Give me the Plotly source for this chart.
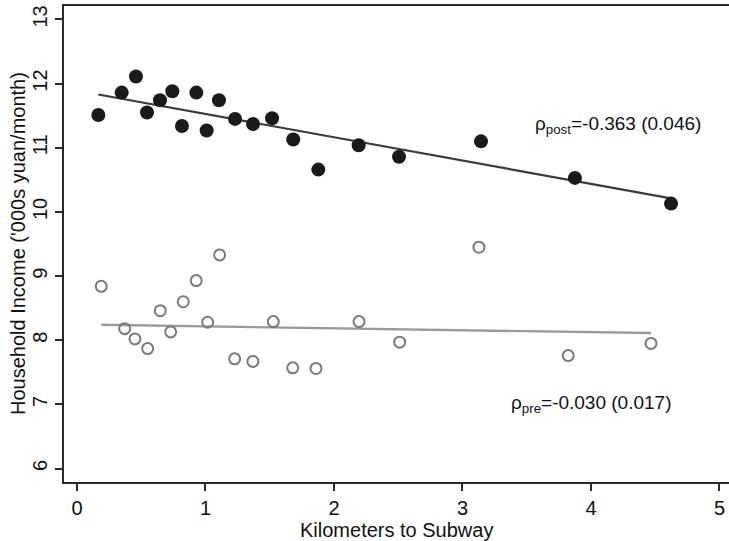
import plotly.graph_objects as go

# ---- data ----
post_km = [0.166, 0.348, 0.459, 0.545, 0.646, 0.742, 0.817, 0.929, 1.009, 1.105,
           1.230, 1.370, 1.518, 1.683, 1.878, 2.192, 2.506, 3.144, 3.875, 4.623]
post_income = [11.51, 11.86, 12.11, 11.55, 11.74, 11.88, 11.34, 11.86, 11.27, 11.74,
               11.45, 11.37, 11.46, 11.13, 10.66, 11.04, 10.86, 11.10, 10.53, 10.13]

pre_km = [0.189, 0.371, 0.451, 0.550, 0.648, 0.729, 0.827, 0.928, 1.017, 1.110,
          1.227, 1.369, 1.528, 1.679, 1.860, 2.195, 2.511, 3.128, 3.823, 4.467]
pre_income = [8.84, 8.18, 8.02, 7.87, 8.46, 8.13, 8.60, 8.93, 8.28, 9.33,
              7.71, 7.67, 8.29, 7.57, 7.56, 8.29, 7.97, 9.45, 7.76, 7.95]

# fitted lines (intercept, slope)
post_fit = (11.89, -0.363)
pre_fit = (8.246, -0.030)

x_ticks = [0, 1, 2, 3, 4, 5]
y_ticks = [6, 7, 8, 9, 10, 11, 12, 13]

FONT = "Liberation Sans, Arial, Helvetica, sans-serif"

fig = go.Figure()

def fit_line(xs, fit):
    x0, x1 = min(xs), max(xs)
    return [x0, x1], [fit[0] + fit[1] * x0, fit[0] + fit[1] * x1]

lx, ly = fit_line(post_km, post_fit)
fig.add_trace(go.Scatter(x=lx, y=ly, mode="lines",
                         line=dict(color="#3a3a3a", width=2.2), showlegend=False))
lx, ly = fit_line(pre_km, pre_fit)
fig.add_trace(go.Scatter(x=lx, y=ly, mode="lines",
                         line=dict(color="#9a9a9a", width=2.4), showlegend=False))

fig.add_trace(go.Scatter(x=post_km, y=post_income, mode="markers",
                         marker=dict(symbol="circle", size=14, color="#1a1a1a",
                                     line=dict(width=0)),
                         showlegend=False))
fig.add_trace(go.Scatter(x=pre_km, y=pre_income, mode="markers",
                         marker=dict(symbol="circle-open", size=11, color="#7a7a7a",
                                     line=dict(width=2, color="#7a7a7a")),
                         showlegend=False))

fig.add_annotation(x=3.549, y=11.35, xref="x", yref="y", xanchor="left", yanchor="middle",
                   text="ρ<sub>post</sub>=-0.363 (0.046)", showarrow=False,
                   font=dict(family=FONT, size=19, color="#111"))
fig.add_annotation(x=3.362, y=7.0, xref="x", yref="y", xanchor="left", yanchor="middle",
                   text="ρ<sub>pre</sub>=-0.030 (0.017)", showarrow=False,
                   font=dict(family=FONT, size=19, color="#111"))

# axis titles
fig.add_annotation(x=0.5, y=-0.1, xref="paper", yref="paper", xanchor="center", yanchor="middle",
                   yshift=0, text="Kilometers to Subway", showarrow=False,
                   font=dict(family=FONT, size=20, color="#111"))
fig.add_annotation(x=0, y=0.5, xref="paper", yref="paper", xanchor="center", yanchor="middle",
                   xshift=-46, text="Household Income ('000s yuan/month)", showarrow=False,
                   textangle=-90, font=dict(family=FONT, size=20, color="#111"))

fig.update_layout(
    width=729, height=541,
    margin=dict(l=64, r=0, t=6, b=59),
    paper_bgcolor="white", plot_bgcolor="white",
    font=dict(family=FONT, size=20, color="#111"),
    xaxis=dict(range=[-0.101, 5.074], tickvals=x_ticks, ticktext=[str(v) for v in x_ticks],
               showgrid=False, zeroline=False, showline=True, linecolor="#2a2a2a",
               linewidth=2, mirror=True, ticks="outside", ticklen=7, tickwidth=1.5,
               tickcolor="#2a2a2a", tickfont=dict(size=20)),
    yaxis=dict(range=[5.79, 13.21], tickvals=y_ticks, ticktext=[str(v) for v in y_ticks],
               showgrid=False, zeroline=False, showline=True, linecolor="#2a2a2a",
               linewidth=2, ticks="outside", ticklen=7, tickwidth=1.5,
               tickcolor="#2a2a2a", tickangle=-90, tickfont=dict(size=20)),
)

fig.write_html("out.html")
